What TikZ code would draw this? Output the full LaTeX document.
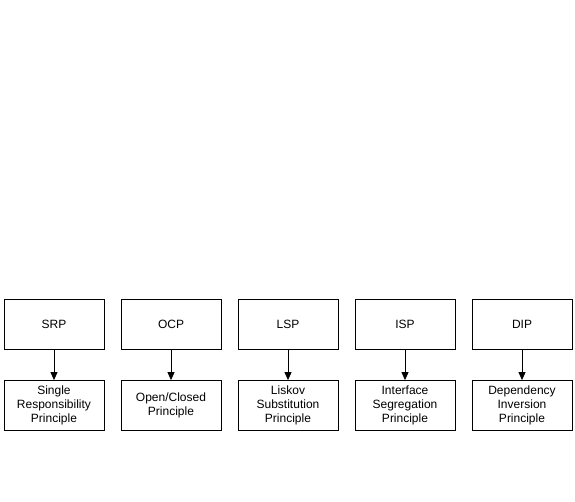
\documentclass[tikz,border=0pt]{standalone}
\usepackage{fontspec}
\setmainfont{Liberation Sans}
\usetikzlibrary{arrows.meta}
\begin{document}
\begin{tikzpicture}[x=1pt,y=-1pt,
  box/.style={draw=black,line width=0.8pt,minimum width=100pt,minimum height=50pt,inner sep=0pt,align=center,font=\fontsize{12}{14}\selectfont},
  arr/.style={-{Triangle[length=8pt,width=7pt]},line width=0.8pt}]
\fill[white] (0,0) rectangle (575,502);
\useasboundingbox (0,0) rectangle (575,502);
\foreach \n/\i/\t/\b in {a/0/SRP/{Single\\Responsibility\\Principle},
                      b/1/OCP/{Open/Closed\\Principle},
                      c/2/LSP/{Liskov\\Substitution\\Principle},
                      d/3/ISP/{Interface\\Segregation\\Principle},
                      e/4/DIP/{Dependency\\Inversion\\Principle}}{
  \node[box] (t\n) at (54+117*\i,324) {\t};
  \node[box] (b\n) at (54+117*\i,405.5) {\b};
  \draw[arr] (t\n) -- (b\n);
}
\end{tikzpicture}
\end{document}
